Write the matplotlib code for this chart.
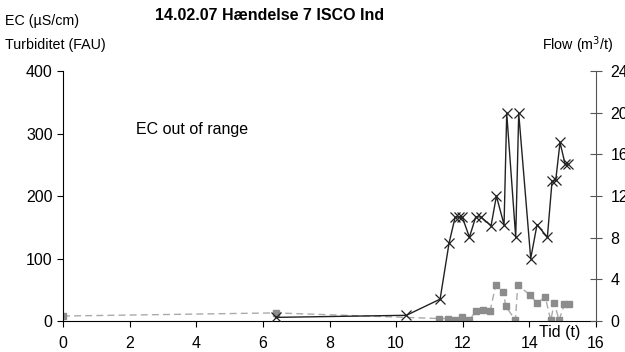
import matplotlib.pyplot as plt

plt.rcParams['font.family'] = ['Liberation Sans', 'DejaVu Sans']

# flow (right axis, m3/t)
flow_t = [6.38, 10.31, 11.32, 11.59, 11.77, 11.89, 11.99, 12.2, 12.39, 12.54, 12.85,
          13.01, 13.24, 13.32, 13.59, 13.68, 14.04, 14.23, 14.54, 14.68, 14.79, 14.92,
          15.07, 15.17]
flow = [0.35, 0.55, 2.1, 7.5, 9.95, 10.0, 9.95, 8.05, 10.0, 10.0, 9.15,
        12.0, 9.25, 19.95, 8.05, 19.95, 6.0, 9.25, 8.05, 13.4, 13.5, 17.15,
        15.1, 15.05]

# turbiditet (left axis, FAU)
turb_t = [0.0, 6.38, 11.3, 11.57, 11.77, 11.97, 12.2, 12.39, 12.62, 12.82, 12.99,
          13.22, 13.29, 13.58, 13.65, 14.02, 14.22, 14.48, 14.64, 14.75, 14.89,
          15.05, 15.2]
turb = [8, 13, 4, 4, 1, 6, 1, 16, 17, 16, 57,
        47, 24, 1, 57, 42, 29, 38, 1, 29, 1,
        27, 27]

fig = plt.figure(figsize=(6.25, 3.52), dpi=100)
ax = fig.add_axes([0.1008, 0.088, 0.8528, 0.71])
ax2 = ax.twinx()

ax.plot(turb_t, turb, color='#aaaaaa', linestyle=(0, (5, 3)), linewidth=1.0,
        marker='s', markersize=4, markerfacecolor='#8c8c8c', markeredgecolor='#8c8c8c')
ax2.plot(flow_t, flow, color='#222222', linewidth=1.0, marker='x', markersize=7,
         markeredgewidth=0.9)

ax.set_xlim(0, 16)
ax.set_ylim(0, 400)
ax2.set_ylim(0, 24)
ax.set_xticks(range(0, 17, 2))
ax.set_yticks(range(0, 401, 100))
ax2.set_yticks(range(0, 25, 4))

ax.spines['top'].set_visible(False)
ax2.spines['top'].set_visible(False)
ax.spines['right'].set_visible(False)
ax2.spines['left'].set_visible(False)
ax2.spines['bottom'].set_visible(False)
ax2.spines['right'].set_color('#555555')

ax.tick_params(axis='y', labelsize=11.5, length=4, direction='out', width=0.8, pad=3.5)
ax.tick_params(axis='x', labelsize=11.5, length=4, direction='out', width=0.8, pad=6.5)
ax2.tick_params(axis='y', labelsize=11.5, length=8, direction='inout', width=0.8,
                colors='#555555', labelcolor='black', pad=6.5)

ax.text(2.2, 307, 'EC out of range', fontsize=11.5, va='center', ha='left')
ax.text(15.52, -18, 'Tid (t)', fontsize=11.5, ha='right', va='center', clip_on=False)

fig.text(0.432, 0.955, '14.02.07 Hændelse 7 ISCO Ind', fontsize=11.5, fontweight='bold',
         ha='center', va='center')
fig.text(0.008, 0.94, 'EC (µS/cm)', fontsize=10.3, ha='left', va='center')
fig.text(0.008, 0.872, 'Turbiditet (FAU)', fontsize=10.3, ha='left', va='center')
fig.text(0.982, 0.872, 'Flow (m$^3$/t)', fontsize=10.3, ha='right', va='center')

fig.savefig('out.png', dpi=100)
